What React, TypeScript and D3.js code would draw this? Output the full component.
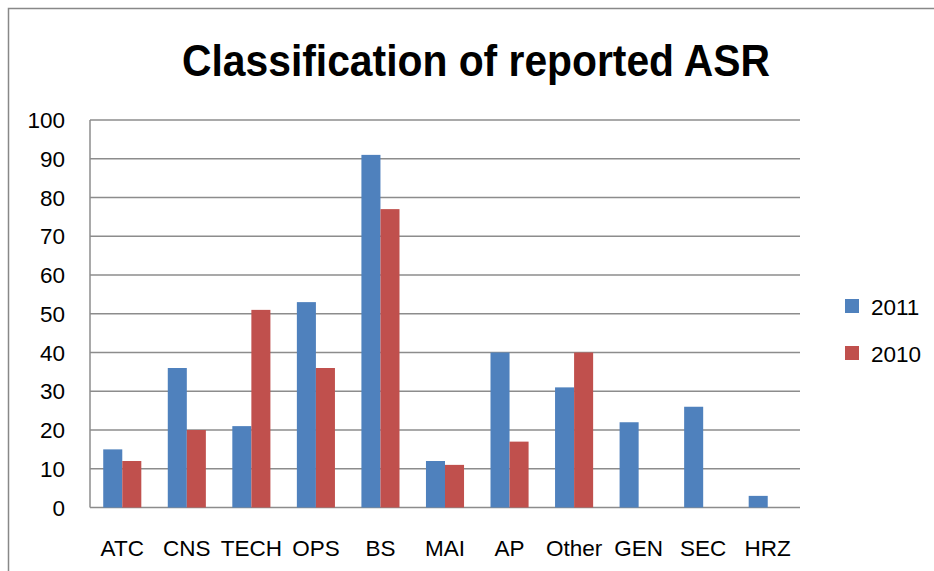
import React from "react";
import * as d3 from "d3";

// categories and series values
const categories = ["ATC", "CNS", "TECH", "OPS", "BS", "MAI", "AP", "Other", "GEN", "SEC", "HRZ"];
const values2011 = [15, 36, 21, 53, 91, 12, 40, 31, 22, 26, 3];
const values2010 = [12, 20, 51, 36, 77, 11, 17, 40, 0, 0, 0];
const yTicks = [0, 10, 20, 30, 40, 50, 60, 70, 80, 90, 100];
const seriesNames = ["2011", "2010"];
const colors = ["#4F81BD", "#C0504D"];

const W = 934;
const H = 571;
const margin = { top: 120, right: 134, bottom: 62, left: 90 };

const App = () => {
  const x = d3
    .scaleBand()
    .domain(categories)
    .range([margin.left, W - margin.right])
    .paddingInner(0.41)
    .paddingOuter(0.205);
  const y = d3.scaleLinear().domain([0, 100]).range([H - margin.bottom - 1.5, margin.top]);
  const inner = d3.scaleBand().domain(seriesNames).range([0, x.bandwidth()]);

  const series = [values2011, values2010];
  const font = "'Liberation Sans', Arial, sans-serif";
  const grid = "#8c8c8c";

  return (
    <svg
      width={W}
      height={H}
      style={{ position: "absolute", left: 0, top: 0, background: "#fff" }}
      fontFamily={font}
    >
      {/* outer chart frame */}
      <path d={`M8.5,${H} V8.5 H${W}`} fill="none" stroke="#888" strokeWidth={1.5} />

      <text
        x={476}
        y={76}
        textAnchor="middle"
        fontSize={45}
        fontWeight="bold"
        textLength={588}
        lengthAdjust="spacingAndGlyphs"
      >
        Classification of reported ASR
      </text>

      {/* gridlines */}
      {yTicks.map((t) => (
        <line
          key={t}
          x1={margin.left}
          x2={W - margin.right}
          y1={y(t)}
          y2={y(t)}
          stroke={grid}
          strokeWidth={1.5}
        />
      ))}
      <line x1={margin.left} x2={margin.left} y1={y(100)} y2={y(0)} stroke={grid} strokeWidth={1.5} />

      {/* y tick labels */}
      {yTicks.map((t) => (
        <text key={t} x={65} y={y(t) + 8} textAnchor="end" fontSize={22.5} fill="#000">
          {t}
        </text>
      ))}

      {/* bars */}
      {series.map((vals, si) =>
        categories.map((c, i) =>
          vals[i] > 0 ? (
            <rect
              key={`${si}-${c}`}
              x={(x(c) as number) + (inner(seriesNames[si]) as number)}
              y={y(vals[i])}
              width={inner.bandwidth()}
              height={y(0) - y(vals[i])}
              fill={colors[si]}
            />
          ) : null
        )
      )}

      {/* x labels */}
      {categories.map((c) => (
        <text
          key={c}
          x={(x(c) as number) + x.bandwidth() / 2}
          y={556}
          textAnchor="middle"
          fontSize={22.5}
          fill="#000"
        >
          {c}
        </text>
      ))}

      {/* legend */}
      {seriesNames.map((s, i) => (
        <g key={s} transform={`translate(845,${299 + i * 47})`}>
          <rect width={14} height={14} fill={colors[i]} />
          <text x={26} y={15.5} fontSize={22.5} fill="#000">
            {s}
          </text>
        </g>
      ))}
    </svg>
  );
};

export default App;
